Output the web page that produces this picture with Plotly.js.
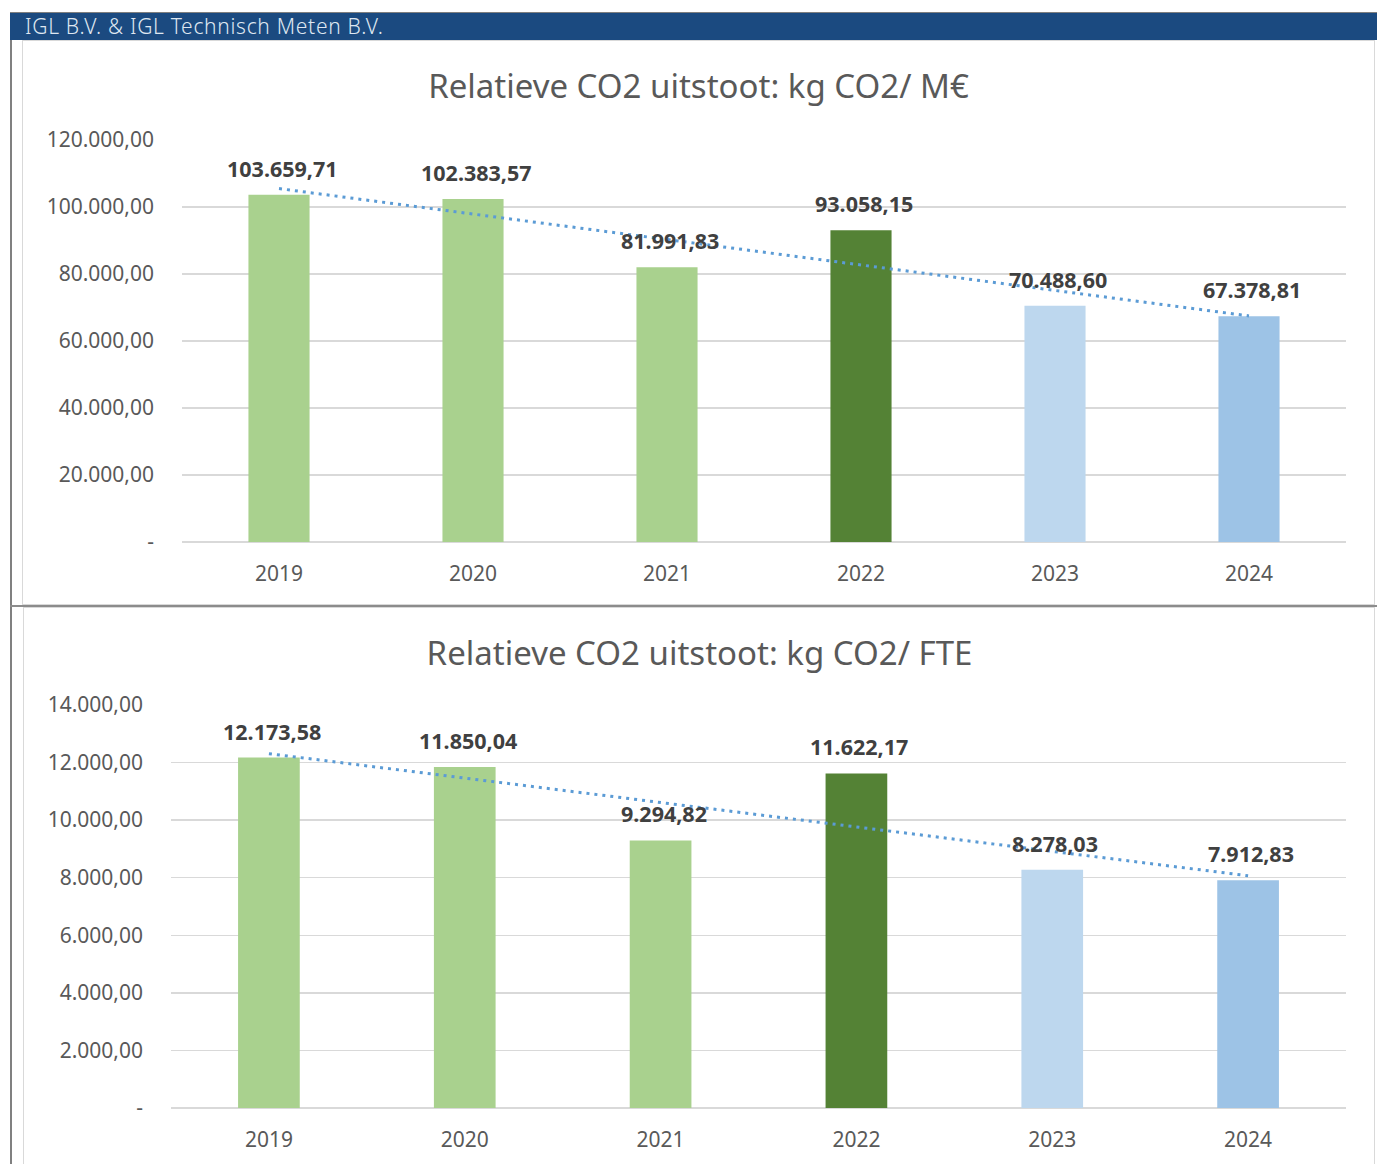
<!DOCTYPE html>
<html>
<head>
<meta charset="utf-8">
<script src="https://cdn.plot.ly/plotly-3.0.1.min.js"></script>
<style>
  html, body { margin: 0; padding: 0; background: #ffffff; width: 1377px; height: 1164px; overflow: hidden; position: relative; font-family: "Noto Sans", sans-serif; }
  #leftline { position: absolute; left: 10px; top: 12px; width: 2px; height: 1152px; background: #808080; }
  #header { position: absolute; left: 10px; top: 12px; width: 1367px; height: 28px; background: #1b4a80; border-top: 1px solid #7f7f7f; box-sizing: border-box; }
  #header span { position: absolute; left: 15px; top: -1px; color: #dfe7f1; font-family: "Noto Sans", sans-serif; font-size: 21px; font-weight: 300; letter-spacing: 0.7px; }
  #box1 { position: absolute; left: 22px; top: 40px; width: 1353px; height: 565px; border: 1px solid #d9d9d9; box-sizing: border-box; }
  #sep { position: absolute; left: 10px; top: 605px; width: 1367px; height: 2px; background: #8c8c8c; }
  #box2 { position: absolute; left: 23px; top: 607px; width: 1352px; height: 560px; border: 1px solid #d9d9d9; box-sizing: border-box; }
  #chart1 { position: absolute; left: 23px; top: 41px; width: 1351px; height: 563px; }
  #chart2 { position: absolute; left: 24px; top: 608px; width: 1350px; height: 556px; }
</style>
</head>
<body>
<div id="leftline"></div>
<div id="header"><span>IGL B.V. &amp; IGL Technisch Meten B.V.</span></div>
<div id="box1"></div>
<div id="sep"></div>
<div id="box2"></div>
<div id="chart1"></div>
<div id="chart2"></div>
<script>
// ---- data ----
const years = ['2019', '2020', '2021', '2022', '2023', '2024'];
const co2PerMEuro = [103659.71, 102383.57, 81991.83, 93058.15, 70488.60, 67378.81];
const co2PerFTE = [12173.58, 11850.04, 9294.82, 11622.17, 8278.03, 7912.83];
// linear trendline end values (Excel trendline, read at 2019 and 2024)
const trendYears = ['2019', '2024'];
const trendMEuro = [105495.1, 67491.8];
const trendFTE = [12309.5, 8067.7];
const barColors = ['#a9d18e', '#a9d18e', '#a9d18e', '#548235', '#bdd7ee', '#9dc3e6'];
const ticks1Vals = [0, 20000, 40000, 60000, 80000, 100000, 120000];
const ticks1Text = ['-', '20.000,00', '40.000,00', '60.000,00', '80.000,00', '100.000,00', '120.000,00'];
const ticks2Vals = [0, 2000, 4000, 6000, 8000, 10000, 12000, 14000];
const ticks2Text = ['-', '2.000,00', '4.000,00', '6.000,00', '8.000,00', '10.000,00', '12.000,00', '14.000,00'];
const title1 = 'Relatieve CO2 uitstoot: kg CO2/ M€';
const title2 = 'Relatieve CO2 uitstoot: kg CO2/ FTE';

function fmtNL(v) {
  const parts = v.toFixed(2).split('.');
  const intPart = parts[0].replace(/\B(?=(\d{3})+(?!\d))/g, '.');
  return intPart + ',' + parts[1];
}

const FONT = '"Noto Sans", "Open Sans", sans-serif';

function makeChart(id, values, trend, tickVals, tickText, yMax, title, margins, h) {
  const bars = {
    type: 'bar', x: years, y: values,
    marker: { color: barColors, line: { width: 0 } },
    width: 0.315, hoverinfo: 'skip', showlegend: false
  };
  const tr = {
    type: 'scatter', mode: 'lines', x: trendYears, y: trend,
    line: { color: '#5b9bd5', width: 3, dash: '3px,5px' },
    hoverinfo: 'skip', showlegend: false
  };
  const anns = values.map((v, i) => ({
    x: i, y: v, xref: 'x', yref: 'y',
    text: '<b>' + fmtNL(v) + '</b>', showarrow: false, yanchor: 'bottom', yshift: 10, xshift: 3,
    font: { family: FONT, size: 21.5, color: '#404040' }
  }));
  const layout = {
    width: 1351, height: h,
    margin: margins,
    paper_bgcolor: 'rgba(0,0,0,0)', plot_bgcolor: 'rgba(0,0,0,0)',
    title: { text: title, x: 0.5, xanchor: 'center', yref: 'container', y: 1 - 45 / h, yanchor: 'middle',
             font: { family: FONT, size: 33, color: '#595959' } },
    xaxis: { type: 'category', tickfont: { family: FONT, size: 21, color: '#595959' },
             showgrid: false, showline: false, zeroline: false, ticks: '', ticklabelstandoff: 17,
             range: [-0.5, 5.5] },
    yaxis: { range: [0, yMax], tickvals: tickVals, ticktext: tickText,
             tickfont: { family: FONT, size: 21, color: '#595959' },
             showgrid: true, gridcolor: '#d9d9d9', gridwidth: 1.3,
             zeroline: true, zerolinecolor: '#d9d9d9', zerolinewidth: 1.6,
             showline: false, ticks: '', ticklabelstandoff: 27 },
    annotations: anns,
    bargap: 0.5
  };
  Plotly.newPlot(id, [bars, tr], layout, { staticPlot: true, displayModeBar: false });
}

makeChart('chart1', co2PerMEuro, trendMEuro, ticks1Vals, ticks1Text, 120000, title1,
  { l: 159, r: 28, t: 99, b: 62 }, 563);
makeChart('chart2', co2PerFTE, trendFTE, ticks2Vals, ticks2Text, 14000, title2,
  { l: 147, r: 29, t: 97, b: 56 }, 556);
</script>
</body>
</html>
